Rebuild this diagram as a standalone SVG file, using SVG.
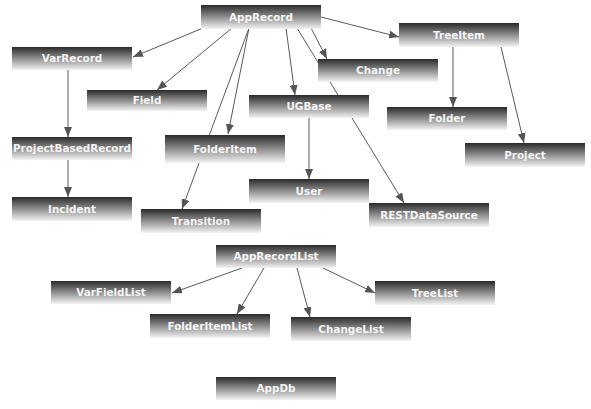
<svg xmlns="http://www.w3.org/2000/svg" width="591" height="409" viewBox="0 0 591 409">
<defs>
<linearGradient id="g" x1="0" y1="0" x2="0" y2="1">
<stop offset="0" stop-color="#2a2a2a"/>
<stop offset="1" stop-color="#f4f4f4"/>
</linearGradient>
<marker id="a" markerUnits="userSpaceOnUse" markerWidth="10" markerHeight="8" refX="10" refY="4" orient="auto">
<path d="M0,0 L10,4 L0,8 z" fill="#555"/>
</marker>
<style>
.n rect{fill:url(#g);}
.n text{font-family:"DejaVu Sans",Verdana,sans-serif;font-weight:bold;font-size:10.4px;fill:#f4f4f4;text-anchor:middle;}
#edges line{stroke:#5a5a5a;stroke-width:1;marker-end:url(#a);}
</style>
</defs>
<rect width="591" height="409" fill="#fff"/>
<g id="edges">
<line x1="203" y1="28" x2="133" y2="57"/>
<line x1="232" y1="28" x2="157" y2="90"/>
<line x1="249" y1="28" x2="228" y2="134"/>
<line x1="249" y1="28" x2="182" y2="209"/>
<line x1="286" y1="28" x2="295" y2="95"/>
<line x1="297" y1="28" x2="404" y2="203"/>
<line x1="311" y1="28" x2="327" y2="59"/>
<line x1="321" y1="17" x2="399" y2="37"/>
<line x1="453" y1="47" x2="453" y2="107"/>
<line x1="501" y1="47" x2="524" y2="143"/>
<line x1="68" y1="70" x2="68" y2="137"/>
<line x1="68" y1="160" x2="68" y2="197"/>
<line x1="309" y1="118" x2="309" y2="179"/>
<line x1="242" y1="268" x2="172" y2="293"/>
<line x1="264" y1="268" x2="237" y2="314"/>
<line x1="297" y1="268" x2="310" y2="317"/>
<line x1="323" y1="268" x2="375" y2="293"/>
</g>
<g id="AppRecord" class="n"><rect x="201" y="5" width="120" height="24"/><text x="261" y="20.8">AppRecord</text></g>
<g id="TreeItem" class="n"><rect x="399" y="23" width="120" height="24"/><text x="459" y="38.8">TreeItem</text></g>
<g id="VarRecord" class="n"><rect x="12" y="47" width="120" height="23"/><text x="72" y="62.3">VarRecord</text></g>
<g id="Change" class="n"><rect x="318" y="59" width="120" height="23"/><text x="378" y="74.3">Change</text></g>
<g id="Field" class="n"><rect x="87" y="90" width="120" height="21"/><text x="147" y="104.3">Field</text></g>
<g id="UGBase" class="n"><rect x="249" y="95" width="120" height="23"/><text x="309" y="110.3">UGBase</text></g>
<g id="Folder" class="n"><rect x="387" y="107" width="120" height="23"/><text x="447" y="122.3">Folder</text></g>
<g id="FolderItem" class="n"><rect x="165" y="135" width="120" height="28"/><text x="225" y="152.8">FolderItem</text></g>
<g id="ProjectBasedRecord" class="n"><rect x="12" y="137" width="120" height="23"/><text x="72" y="152.3">ProjectBasedRecord</text></g>
<g id="Project" class="n"><rect x="465" y="143" width="120" height="24"/><text x="525" y="158.8">Project</text></g>
<g id="User" class="n"><rect x="249" y="179" width="120" height="24"/><text x="309" y="194.8">User</text></g>
<g id="Incident" class="n"><rect x="12" y="197" width="120" height="24"/><text x="72" y="212.8">Incident</text></g>
<g id="RESTDataSource" class="n"><rect x="369" y="203" width="120" height="24"/><text x="429" y="218.8">RESTDataSource</text></g>
<g id="Transition" class="n"><rect x="141" y="209" width="120" height="24"/><text x="201" y="224.8">Transition</text></g>
<g id="AppRecordList" class="n"><rect x="216" y="245" width="120" height="23"/><text x="276" y="260.3">AppRecordList</text></g>
<g id="VarFieldList" class="n"><rect x="51" y="281" width="120" height="23"/><text x="111" y="296.3">VarFieldList</text></g>
<g id="TreeList" class="n"><rect x="375" y="281" width="120" height="24"/><text x="435" y="296.8">TreeList</text></g>
<g id="FolderItemList" class="n"><rect x="150" y="314" width="120" height="24"/><text x="210" y="329.8">FolderItemList</text></g>
<g id="ChangeList" class="n"><rect x="291" y="317" width="120" height="24"/><text x="351" y="332.8">ChangeList</text></g>
<g id="AppDb" class="n"><rect x="216" y="377" width="120" height="23"/><text x="276" y="392.3">AppDb</text></g>
</svg>
